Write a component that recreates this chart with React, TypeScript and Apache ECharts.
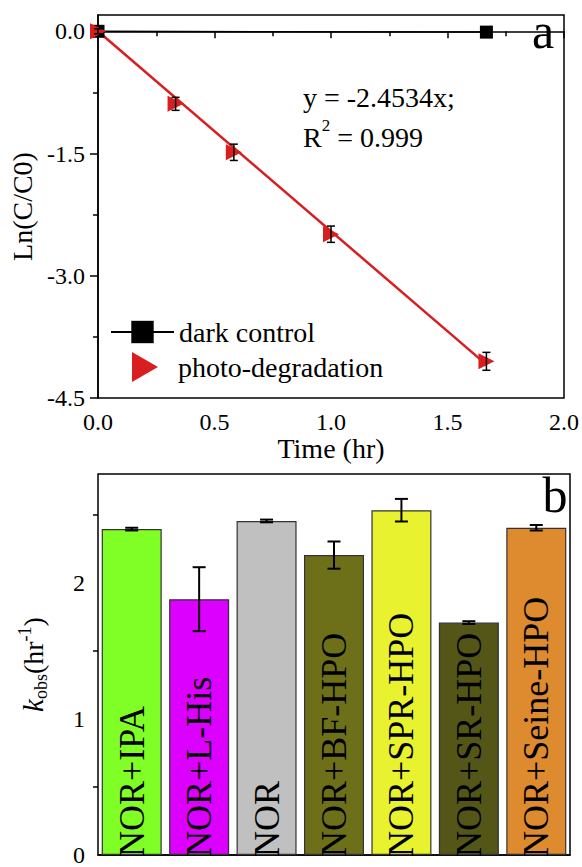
import React, { useEffect, useRef } from "react";
import * as echarts from "echarts";

const FONT = "Liberation Serif, Times New Roman, serif";

// Panel a
const timeHr = [0, 0.333, 0.583, 1.0, 1.667];
const lnPhoto = [0, -0.89, -1.485, -2.49, -4.05];
const lnPhotoErr = [0.03, 0.08, 0.1, 0.1, 0.11];
const darkTime = [0, 1.667];
const lnDark = [0, -0.01];
const fitTime = [0, 1.667];
const fitLn = [0, -4.09];
const yTicksA = [-4.5, -3.0, -1.5, 0.0];

// Panel b
const samples = ["NOR+IPA", "NOR+L-His", "NOR", "NOR+BF-HPO", "NOR+SPR-HPO", "NOR+SR-HPO", "NOR+Seine-HPO"];
const kObs = [2.395, 1.88, 2.455, 2.204, 2.534, 1.708, 2.405];
const kErr = [0.01, 0.235, 0.01, 0.1, 0.083, 0.01, 0.02];
const barColors = ["#80FF26", "#DC00FF", "#C0C0C0", "#6E7019", "#E8F22E", "#535617", "#DE8A2E"];
const yTicksB = [0, 1, 2];

export default function App() {
  const ref = useRef<HTMLDivElement>(null);
  useEffect(() => {
    if (!ref.current) return;
    const chart = echarts.init(ref.current, null, { renderer: "svg" });
    const black = "#000";
    const axisCommon = {
      axisLine: { lineStyle: { color: black, width: 1.5 } },
      splitLine: { show: false },
    };
    const errRender = (cap: number, lw: number) => (params: any, api: any) => {
      const x = api.value(0);
      const lo = api.coord([x, api.value(1)]);
      const hi = api.coord([x, api.value(2)]);
      const h = cap / 2;
      const st = { stroke: black, lineWidth: lw };
      return {
        type: "group",
        children: [
          { type: "line", shape: { x1: hi[0], y1: hi[1], x2: lo[0], y2: lo[1] }, style: st },
          { type: "line", shape: { x1: hi[0] - h, y1: hi[1], x2: hi[0] + h, y2: hi[1] }, style: st },
          { type: "line", shape: { x1: lo[0] - h, y1: lo[1], x2: lo[0] + h, y2: lo[1] }, style: st },
        ],
      };
    };
    const txt = (size: number, extra: any = {}) => ({ fontSize: size, fontFamily: FONT, color: black, fontWeight: "normal", ...extra });

    const option: any = {
      animation: false,
      textStyle: { fontFamily: FONT, color: black },
      grid: [
        { left: 98, top: 15, width: 469, height: 383, show: true, borderColor: black, borderWidth: 1.5 },
        { left: 98, top: 474, width: 472, height: 392, show: true, borderColor: black, borderWidth: 1.5 },
      ],
      legend: [
        {
          data: ["dark control"], left: 110, top: 318, padding: 0, orient: "vertical",
          itemWidth: 63, itemHeight: 28,
          textStyle: txt(28),
        },
        {
          data: [{ name: "photo-degradation", icon: "path://M0,0 L26,15 L0,30 Z" }],
          left: 132, top: 352, padding: 0, orient: "vertical",
          itemWidth: 28, itemHeight: 30,
          textStyle: txt(28, { padding: [0, 0, 0, 14] }),
        },
      ],
      xAxis: [
        {
          gridIndex: 0, type: "value", min: 0, max: 2, interval: 0.5, ...axisCommon,
          axisTick: { length: 7, lineStyle: { color: black, width: 1.5 } },
          minorTick: { show: true, splitNumber: 2, length: 5, lineStyle: { color: black, width: 1.5 } },
          axisLabel: { formatter: (v: number) => v.toFixed(1), margin: 12, ...txt(24) },
          name: "Time (hr)", nameLocation: "middle", nameGap: 35,
          nameTextStyle: txt(28),
        },
        {
          gridIndex: 1, type: "category", data: samples, boundaryGap: true, ...axisCommon,
          axisTick: { show: false }, axisLabel: { show: false },
        },
      ],
      yAxis: [
        {
          gridIndex: 0, type: "value", min: -4.5, max: 0.2, interval: 1.5, ...axisCommon,
          axisTick: { length: 8, customValues: yTicksA, lineStyle: { color: black, width: 1.5 } },
          minorTick: { show: true, splitNumber: 2, length: 5, lineStyle: { color: black, width: 1.5 } },
          axisLabel: { customValues: yTicksA, formatter: (v: number) => v.toFixed(1), margin: 13, ...txt(24) },
          name: "Ln(C/C0)", nameLocation: "middle", nameGap: 62,
          nameTextStyle: txt(28),
        },
        {
          gridIndex: 1, type: "value", min: 0, max: 2.8, interval: 1, ...axisCommon,
          axisTick: { length: 8, customValues: yTicksB, lineStyle: { color: black, width: 1.5 } },
          minorTick: { show: true, splitNumber: 2, length: 5, lineStyle: { color: black, width: 1.5 } },
          axisLabel: { customValues: yTicksB, margin: 13, ...txt(24) },
          name: "{k|k}{sub|obs}{n|(hr}{sup|-1}{n|)}", nameLocation: "middle", nameGap: 48,
          nameTextStyle: {
            ...txt(28),
            rich: {
              k: txt(29, { fontStyle: "italic", lineHeight: 34 }),
              n: txt(28, { lineHeight: 34 }),
              sub: txt(18, { lineHeight: 18, verticalAlign: "bottom" }),
              sup: txt(18, { lineHeight: 18, verticalAlign: "top" }),
            },
          },
        },
      ],
      graphic: [
        { type: "text", x: 543, y: 31, style: { text: "a", font: `50px ${FONT}`, fill: black, align: "center", verticalAlign: "middle" } },
        { type: "text", x: 555, y: 495, style: { text: "b", font: `50px ${FONT}`, fill: black, align: "center", verticalAlign: "middle" } },
        {
          type: "text", x: 303, y: 77,
          style: {
            text: "{n|y = -2.4534x;}\n{n|R}{sup|2}{n| = 0.999}",
            fill: black, align: "left", verticalAlign: "top",
            rich: {
              n: { fontSize: 28, fontFamily: FONT, lineHeight: 40, fill: black, color: black },
              sup: { fontSize: 17, fontFamily: FONT, lineHeight: 22, verticalAlign: "top", fill: black, color: black },
            },
          },
        },
      ],
      series: [
        {
          name: "fit", type: "line", xAxisIndex: 0, yAxisIndex: 0,
          data: fitTime.map((t, i) => [t, fitLn[i]]), showSymbol: false, symbol: "none",
          lineStyle: { color: "#D81E1E", width: 2.5 }, z: 2,
        },
        {
          name: "dark control", type: "line", xAxisIndex: 0, yAxisIndex: 0,
          data: darkTime.map((t, i) => [t, lnDark[i]]),
          symbol: "rect", symbolSize: 13, itemStyle: { color: black },
          lineStyle: { color: black, width: 1.5 }, z: 3,
        },
        {
          name: "photo-degradation", type: "scatter", xAxisIndex: 0, yAxisIndex: 0,
          data: timeHr.map((t, i) => [t, lnPhoto[i]]),
          symbol: "triangle", symbolRotate: -90, symbolSize: 16,
          itemStyle: { color: "#D81E1E", opacity: 1 }, z: 4,
        },
        {
          name: "photoErr", type: "custom", xAxisIndex: 0, yAxisIndex: 0,
          data: timeHr.map((t, i) => [t, lnPhoto[i] - lnPhotoErr[i], lnPhoto[i] + lnPhotoErr[i]]),
          encode: { x: 0, y: [1, 2] }, renderItem: errRender(8, 1.5), z: 5,
        },
        {
          name: "kobs", type: "bar", xAxisIndex: 1, yAxisIndex: 1,
          data: kObs.map((v, i) => ({ value: v, itemStyle: { color: barColors[i] } })),
          barCategoryGap: "11%",
          itemStyle: { borderColor: "#333", borderWidth: 1.2 },
          label: {
            show: true, position: "insideBottom", rotate: 90, align: "left", verticalAlign: "middle",
            distance: -2, formatter: "{b}", ...txt(36),
          },
        },
        {
          name: "kErr", type: "custom", xAxisIndex: 1, yAxisIndex: 1,
          data: kObs.map((v, i) => [i, v - kErr[i], v + kErr[i]]),
          encode: { x: 0, y: [1, 2] }, renderItem: errRender(13, 2), z: 5,
        },
      ],
    };
    chart.setOption(option);
    return () => chart.dispose();
  }, []);
  return <div ref={ref} style={{ position: "absolute", left: 0, top: 0, width: 582, height: 867, background: "#fff" }} />;
}
